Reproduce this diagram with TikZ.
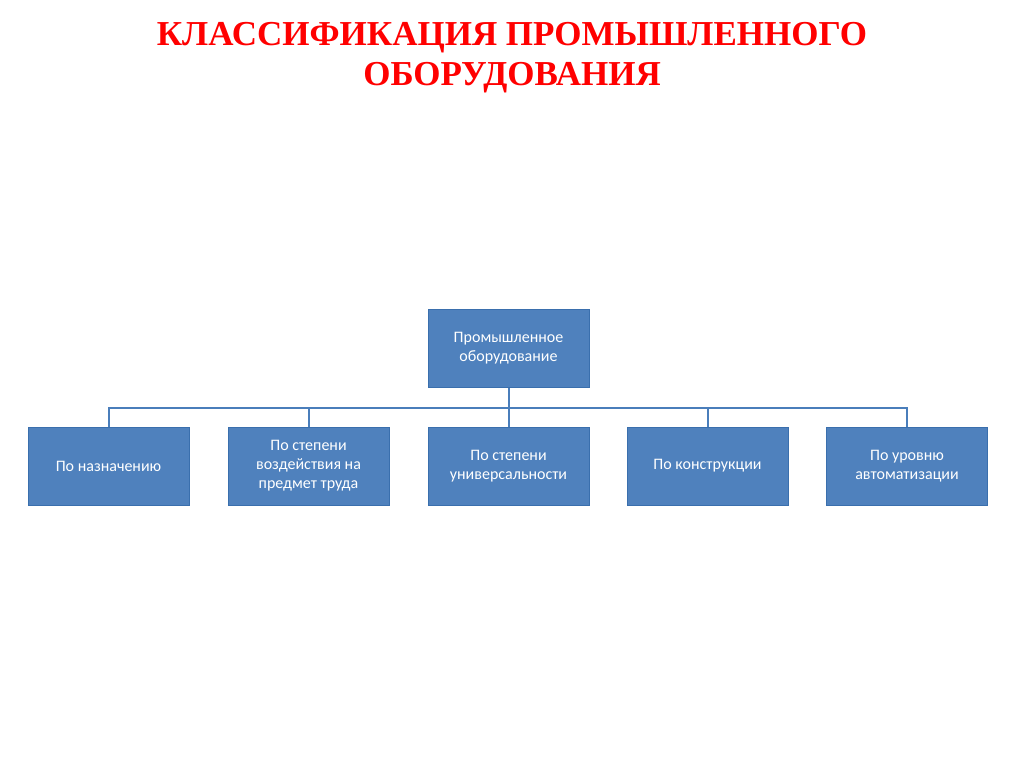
\documentclass[tikz,border=0pt]{standalone}
\usepackage{fontspec}
\setmainfont{Carlito}
\newfontfamily\titlefont{Liberation Serif}
\definecolor{boxblue}{HTML}{4F81BD}
\definecolor{boxedge}{HTML}{3A6FAD}
\definecolor{linkblue}{HTML}{4A7EBB}
\definecolor{titlered}{HTML}{FF0000}
\begin{document}
\begin{tikzpicture}[x=1pt,y=-1pt,
  cbox/.style={draw=boxedge,line width=0.8pt,fill=boxblue,text=white,minimum width=161pt,minimum height=78pt,inner sep=2pt,align=center,font=\fontsize{16}{19}\selectfont},
  link/.style={draw=linkblue,line width=2pt}]
\useasboundingbox (0,0) rectangle (1024,767);
\fill[white] (0,0) rectangle (1024,767);
\node[text=titlered,font=\titlefont\bfseries\fontsize{35}{40}\selectfont,align=center] (title) at (512,58) {КЛАССИФИКАЦИЯ ПРОМЫШЛЕННОГО\\ОБОРУДОВАНИЯ};
\node[cbox] (top) at (508.5,348.5) {Промышленное\\оборудование};
\node[cbox] (b1) at (108.5,466) {По назначению};
\node[cbox] (b2) at (308.5,466) {По степени\\воздействия на\\предмет труда};
\node[cbox] (b3) at (508.5,466) {По степени\\универсальности};
\node[cbox] (b4) at (707.5,466) {По конструкции};
\node[cbox] (b5) at (907,466) {По уровню\\автоматизации};
\coordinate (bus) at (508.5,408);
\draw[link] (top.south) -- (bus);
\foreach \b in {b1,b2,b3,b4,b5}{
  \draw[link] (bus) -| (\b.north);
}
\end{tikzpicture}
\end{document}
